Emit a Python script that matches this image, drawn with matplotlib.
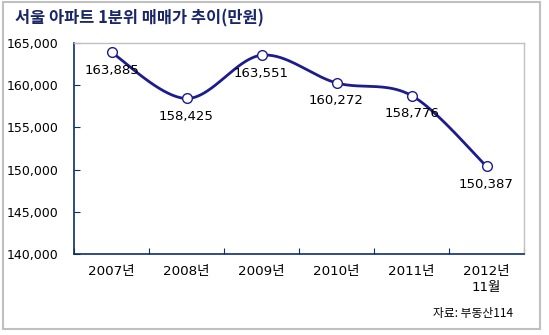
import numpy as np
import matplotlib
matplotlib.use("Agg")
import matplotlib.pyplot as plt
from matplotlib.patches import Rectangle

plt.rcParams['font.family'] = ['DejaVu Sans', 'Noto Sans CJK KR']

categories = ["2007년", "2008년", "2009년", "2010년", "2011년", "2012년\n11월"]
values = [163885, 158425, 163551, 160272, 158776, 150387]
y_ticks = [140000, 145000, 150000, 155000, 160000, 165000]
title = "서울 아파트 1분위 매매가 추이(만원)"
source = "자료: 부동산114"

navy = "#1c1c8e"
axis_col = "#0a2f6e"

fig = plt.figure(figsize=(5.49, 3.35), dpi=100)
fig.patch.set_facecolor("white")
# outer border
fig.add_artist(Rectangle((3/549, 1 - 329/335), 537/549, 327/335, transform=fig.transFigure,
                         fill=False, edgecolor="#c0c0c0", linewidth=1.5))

ax = fig.add_axes([74/549, (335-254)/335, 450/549, 211/335])
x = np.arange(len(values)) + 0.5

# Catmull-Rom smoothing (like Excel smoothed line)
pts = np.column_stack([x, values]).astype(float)
ext = np.vstack([pts[0], pts, pts[-1]])
curve = []
t = np.linspace(0, 1, 40)
for i in range(1, len(ext) - 2):
    p0, p1, p2, p3 = ext[i-1], ext[i], ext[i+1], ext[i+2]
    c1 = p1 + (p2 - p0) / 6
    c2 = p2 - (p3 - p1) / 6
    seg = ((1-t)**3)[:, None]*p1 + (3*(1-t)**2*t)[:, None]*c1 + (3*(1-t)*t**2)[:, None]*c2 + (t**3)[:, None]*p2
    curve.append(seg)
curve = np.vstack(curve)
ax.plot(curve[:, 0], curve[:, 1], color=navy, linewidth=2, zorder=3, solid_capstyle='round')
ax.plot(x, values, linestyle='none', marker='o', markersize=7, markerfacecolor='white',
        markeredgecolor=navy, markeredgewidth=1, zorder=4)

for xi, v in zip(x, values):
    ax.annotate(f"{v:,}", (xi, v), xytext=(0, -13), textcoords='offset points',
                ha='center', va='center', fontsize=9.5, color='black', zorder=5)

ax.set_xlim(0, len(values))
ax.set_ylim(140000, 165000)
ax.set_yticks(y_ticks)
ax.set_yticklabels([f"{v:,}" for v in y_ticks], fontsize=9)
ax.set_xticks(np.arange(len(values) + 1))
ax.set_xticklabels([])
ax.set_xticks(x, minor=True)
ax.set_xticklabels(categories, minor=True, fontsize=9.7, linespacing=1.3, va='top')
ax.tick_params(axis='x', which='minor', length=0, pad=8)
ax.tick_params(axis='x', which='major', direction='in', length=4, color=axis_col)
ax.tick_params(axis='y', direction='in', length=4, color=axis_col, pad=11)

for s in ['left', 'bottom']:
    ax.spines[s].set_color(axis_col)
    ax.spines[s].set_linewidth(1.2)
for s in ['top', 'right']:
    ax.spines[s].set_color("#c0c0c0")
    ax.spines[s].set_linewidth(1)

fig.text(15/549, 1 - 18/335, title, fontsize=11.8, fontweight='bold', color="#1a2766",
         ha='left', va='center', family=['Noto Sans CJK KR', 'DejaVu Sans'])
fig.text(513/549, 1 - 313/335, source, fontsize=8.5, color='black', ha='right', va='center',
         family=['Noto Sans CJK KR', 'DejaVu Sans'])

fig.savefig("out.png", dpi=100)
